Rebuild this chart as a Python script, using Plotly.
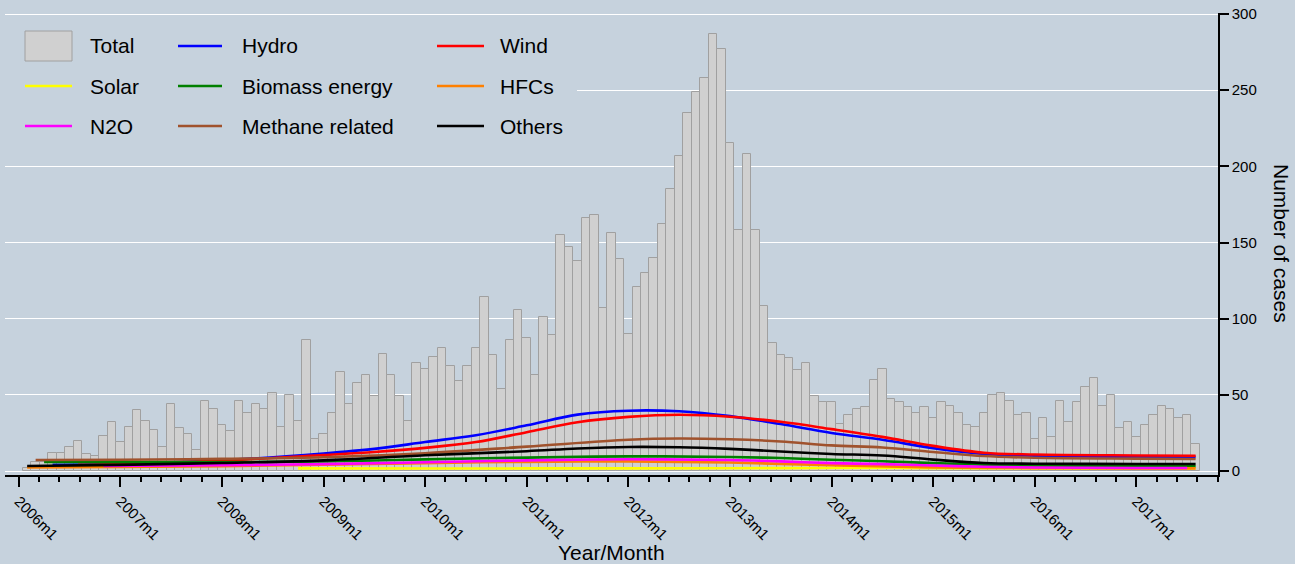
import plotly.graph_objects as go

# ---------------- data ----------------
years = list(range(2006, 2018))
tick_labels = [f"{y}m1" for y in years]          # month index 0 = 2006m1
first_month = 1                                     # first bar = 2006m2

total = [2, 6, 6, 12, 12, 16, 20, 11, 10, 23, 32, 19, 29, 40, 33, 27, 16, 44, 28, 24,
         14, 46, 41, 30, 26, 46, 38, 44, 41, 51, 29, 50, 33, 86, 21, 24, 38, 65, 44, 58,
         63, 49, 77, 63, 49, 33, 71, 67, 75, 81, 69, 59, 69, 81, 114, 76, 54, 86, 106, 87,
         63, 101, 89, 155, 147, 138, 166, 168, 107, 156, 139, 90, 121, 130, 140, 162, 185, 207, 235, 249,
         258, 287, 277, 215, 158, 208, 158, 108, 84, 76, 74, 66, 71, 49, 45, 45, 31, 37, 41, 42,
         60, 67, 47, 45, 42, 38, 42, 35, 45, 43, 38, 30, 29, 38, 50, 51, 46, 37, 38, 21,
         35, 22, 46, 32, 45, 55, 61, 43, 50, 28, 32, 22, 30, 37, 43, 41, 35, 37, 18]
months = list(range(first_month, first_month + len(total)))

hydro_m = [4, 12, 24, 36, 42, 48, 54, 60, 66, 72, 78, 84, 90, 96, 102, 108, 114, 120, 132, 139]
hydro_v = [4.1, 4.8, 7.0, 11.5, 14.5, 19.0, 23.5, 30.0, 37.0, 39.6, 39.2, 36.0, 30.8, 25.0, 20.5, 15.0, 11.2, 10.0, 9.4, 9.3]

wind_m = [7, 12, 24, 36, 42, 48, 54, 60, 66, 72, 78, 84, 90, 96, 102, 108, 114, 120, 132, 139]
wind_v = [4.0, 4.6, 6.8, 10.5, 12.5, 15.2, 19.0, 25.5, 32.0, 35.5, 36.9, 35.6, 32.3, 27.5, 22.4, 16.5, 12.0, 10.8, 10.2, 10.0]

solar_m = [33, 48, 60, 72, 84, 96, 108, 120, 132, 139]
solar_v = [1.7, 1.6, 1.7, 1.7, 1.8, 2.0, 1.9, 1.8, 1.8, 1.8]

biomass_m = [3, 12, 24, 36, 48, 60, 72, 84, 90, 96, 102, 108, 114, 120, 132, 139]
biomass_v = [5.9, 5.8, 5.9, 6.2, 7.6, 8.8, 9.6, 9.2, 8.5, 7.4, 6.4, 5.2, 4.1, 3.5, 3.1, 3.1]

hfc_m = [1, 12, 24, 36, 48, 60, 72, 84, 96, 108, 120, 132, 139]
hfc_v = [2.4, 2.6, 3.2, 4.2, 5.2, 6.0, 6.3, 5.6, 3.8, 2.4, 1.9, 1.7, 1.7]

n2o_m = [10, 24, 36, 48, 60, 72, 84, 90, 96, 102, 108, 114, 120, 132, 138]
n2o_v = [3.3, 3.8, 4.5, 5.7, 7.0, 7.7, 7.2, 6.3, 5.2, 4.5, 3.6, 2.8, 2.3, 2.0, 2.0]

methane_m = [2, 12, 24, 36, 48, 60, 72, 78, 84, 90, 96, 102, 108, 114, 120, 132, 139]
methane_v = [7.2, 7.4, 8.0, 9.0, 11.7, 16.0, 20.5, 21.3, 20.8, 19.4, 16.8, 15.4, 12.5, 9.8, 8.7, 8.1, 7.9]

others_m = [1, 12, 24, 36, 48, 60, 66, 72, 78, 84, 90, 96, 102, 108, 114, 120, 132, 139]
others_v = [3.3, 4.0, 5.3, 7.0, 10.3, 13.0, 14.8, 15.8, 15.6, 14.5, 12.8, 11.2, 10.2, 7.5, 5.3, 4.8, 4.6, 4.6]

series = [
    ("Hydro", hydro_m, hydro_v, "#0000FF"),
    ("Wind", wind_m, wind_v, "#FF0000"),
    ("Solar", solar_m, solar_v, "#FFFF00"),
    ("Biomass energy", biomass_m, biomass_v, "#008000"),
    ("HFCs", hfc_m, hfc_v, "#FF8000"),
    ("N2O", n2o_m, n2o_v, "#FF00FF"),
    ("Methane related", methane_m, methane_v, "#A0522D"),
    ("Others", others_m, others_v, "#000000"),
]

BG = "rgb(198,210,221)"
BAR_FILL = "rgb(208,208,208)"
BAR_LINE = "rgb(160,160,160)"
FONT = "Liberation Sans, Arial, sans-serif"

# ---------------- figure ----------------
fig = go.Figure()
fig.add_trace(go.Bar(x=months, y=total, width=1, name="Total",
                     marker=dict(color=BAR_FILL, line=dict(color=BAR_LINE, width=1)),
                     showlegend=False))
for name, m, v, c in series:
    fig.add_trace(go.Scatter(x=m, y=v, mode="lines", name=name,
                             line=dict(color=c, width=2.6, shape="spline", smoothing=1.0),
                             showlegend=False))

# plot-area pixel geometry
W, H = 1295, 564
PL, PR, PT, PB = 5, 1218, 13, 475
px_per_month = 8.467
x0_px = 18.7  # pixel of month 0
x_range = [(PL - x0_px) / px_per_month, (PR - x0_px) / px_per_month]
px_per_unit = 1.5233
y0_px = 471
y_range = [(y0_px - PB) / px_per_unit, (y0_px - PT) / px_per_unit]

def xp(px):
    return (px - PL) / (PR - PL)

def yp(py):
    return (PB - py) / (PB - PT)

major = [12 * i for i in range(len(years))]
minor = []
for yv in major:
    for k in range(1, 5):
        mm = yv + 2.4 * k
        if mm <= x_range[1]:
            minor.append(mm)

fig.update_layout(
    width=W, height=H,
    paper_bgcolor=BG, plot_bgcolor=BG,
    margin=dict(l=PL, r=W - PR, t=PT, b=H - PB, autoexpand=False),
    bargap=0,
    font=dict(family=FONT, color="black"),
    xaxis=dict(range=x_range, tickmode="array", tickvals=major, ticktext=tick_labels,
               tickangle=45, ticks="outside", ticklen=10, tickwidth=1.5, tickcolor="black",
               showline=True, linecolor="black", linewidth=1.5, showgrid=False, zeroline=False,
               tickfont=dict(size=15, family=FONT, color="black"), automargin=False,
               minor=dict(tickmode="array", tickvals=minor, ticks="outside", ticklen=5,
                          tickwidth=1.5, tickcolor="black", showgrid=False)),
    yaxis=dict(range=y_range, side="right", tickmode="array", tickvals=[0, 50, 100, 150, 200, 250, 300],
               ticks="outside", ticklen=9, tickwidth=1.5, tickcolor="black",
               showline=True, linecolor="black", linewidth=1.5,
               showgrid=True, gridcolor="white", gridwidth=1.3, zeroline=False,
               tickfont=dict(size=15, family=FONT, color="black"), automargin=False),
)

# ---------------- legend (drawn) ----------------
shapes = [dict(type="rect", xref="paper", yref="paper", x0=xp(5), x1=xp(577), y0=yp(16), y1=yp(150),
               fillcolor=BG, line=dict(width=0), layer="above")]
annotations = []
cols = [(25, 72, 88), (178, 222, 240), (437, 484, 498)]
rows = [46, 86, 126]
legend_items = [("Total", None), ("Hydro", "#0000FF"), ("Wind", "#FF0000"),
                ("Solar", "#FFFF00"), ("Biomass energy", "#008000"), ("HFCs", "#FF8000"),
                ("N2O", "#FF00FF"), ("Methane related", "#A0522D"), ("Others", "#000000")]
for i, (label, color) in enumerate(legend_items):
    r, c = divmod(i, 3)
    s0, s1, tx = cols[c]
    ry = rows[r]
    if color is None:
        shapes.append(dict(type="rect", xref="paper", yref="paper", x0=xp(s0), x1=xp(s1),
                           y0=yp(ry + 15), y1=yp(ry - 15), fillcolor=BAR_FILL,
                           line=dict(color=BAR_LINE, width=1), layer="above"))
    else:
        shapes.append(dict(type="line", xref="paper", yref="paper", x0=xp(s0), x1=xp(s1),
                           y0=yp(ry), y1=yp(ry), line=dict(color=color, width=2.6), layer="above"))
    annotations.append(dict(text=label, xref="paper", yref="paper", x=xp(tx), y=yp(ry),
                            xanchor="left", yanchor="middle", showarrow=False,
                            font=dict(size=21, family=FONT, color="black")))

annotations.append(dict(text="Year/Month", xref="paper", yref="paper", x=xp(612), y=yp(552),
                        xanchor="center", yanchor="middle", showarrow=False,
                        font=dict(size=21, family=FONT, color="black")))
annotations.append(dict(text="Number of cases", xref="paper", yref="paper", x=xp(1282), y=yp(243),
                        xanchor="center", yanchor="middle", showarrow=False, textangle=90,
                        font=dict(size=21, family=FONT, color="black")))

fig.update_layout(shapes=shapes, annotations=annotations)
fig.write_html("out.html", config={"displayModeBar": False},
               post_script="document.body.style.margin='0px';document.body.style.overflow='hidden';")
